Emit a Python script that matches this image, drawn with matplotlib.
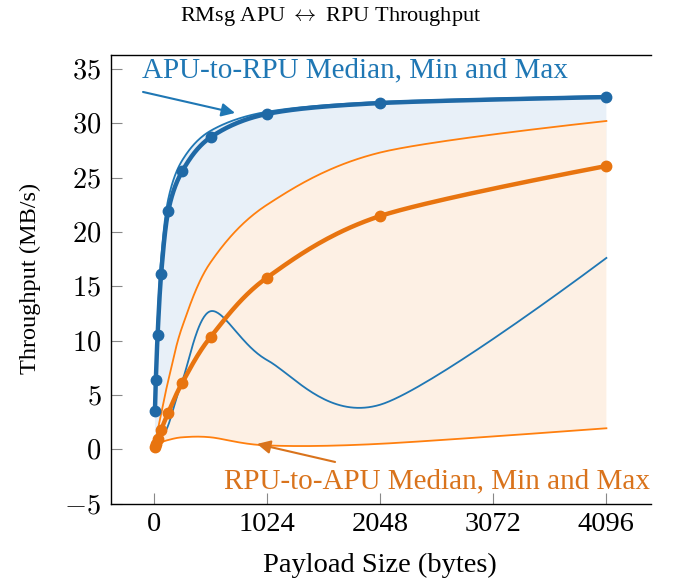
import numpy as np
import matplotlib
matplotlib.use("Agg")
import matplotlib.pyplot as plt
from matplotlib.ticker import FuncFormatter, FixedLocator

# ---------------- data ----------------
payload = [8, 16, 32, 64, 128, 256, 512, 1024, 2048, 4096]

a2r_median = [3.55, 6.4, 10.5, 16.1, 21.9, 25.6, 28.7, 30.85, 31.85, 32.4]
a2r_max = [4.0, 7.2, 11.8, 17.6, 23.0, 26.6, 29.3, 31.05, 31.95, 32.5]
a2r_min = [0.25, 0.5, 0.8, 1.2, 2.2, 6.3, 12.7, 8.2, 4.1, 17.6]

r2a_median = [0.24, 0.48, 0.95, 1.8, 3.37, 6.13, 10.33, 15.8, 21.46, 26.06]
r2a_max = [0.4, 0.9, 1.7, 3.2, 6.3, 11.3, 17.2, 22.5, 27.3, 30.2]
r2a_min = [0.22, 0.4, 0.55, 0.65, 0.85, 1.1, 1.1, 0.35, 0.5, 1.93]

x_ticks = [0, 1024, 2048, 3072, 4096]
y_ticks = [-5, 0, 5, 10, 15, 20, 25, 30, 35]

title = r"RMsg APU $\leftrightarrow$ RPU Throughput"
x_label = "Payload Size (bytes)"
y_label = "Throughput (MB/s)"
a2r_note = "APU-to-RPU Median, Min and Max"
r2a_note = "RPU-to-APU Median, Min and Max"

# ---------------- style ----------------
plt.rcParams["font.family"] = ["Liberation Serif", "DejaVu Serif"]
plt.rcParams["mathtext.fontset"] = "cm"

BLUE = "#1f77b4"
BLUE_DARK = "#1f69a6"
ORANGE = "#ff7f0e"
ORANGE_DARK = "#e8740f"
ORANGE_TEXT = "#d9731c"
BLUE_FILL = "#e8f0f8"
ORANGE_FILL = "#fdf0e4"


def smooth(xs, ys, tension=0.55, n=40):
    """TikZ-like smooth curve through points (cubic Bezier segments)."""
    P = np.column_stack([xs, ys]).astype(float)
    f = 0.2775 * tension
    m = len(P)
    out = [P[0]]
    t = np.linspace(0, 1, n)[1:, None]
    for i in range(m - 1):
        p0, p3 = P[i], P[i + 1]
        c1 = p0 if i == 0 else p0 + f * (P[i + 1] - P[i - 1])
        c2 = p3 if i + 1 == m - 1 else p3 - f * (P[i + 2] - P[i])
        seg = (1 - t) ** 3 * p0 + 3 * (1 - t) ** 2 * t * c1 + 3 * (1 - t) * t ** 2 * c2 + t ** 3 * p3
        out.extend(seg)
    return np.array(out)


W, H = 678, 584
fig = plt.figure(figsize=(W / 100, H / 100), dpi=100)
ax_l, ax_r, ax_t, ax_b = 111, 651, 55, 503.6
ax = fig.add_axes([ax_l / W, 1 - ax_b / H, (ax_r - ax_l) / W, (ax_b - ax_t) / H])

a_med = smooth(payload, a2r_median)
a_hi = smooth(payload, a2r_max)
a_lo = smooth(payload, a2r_min)
r_med = smooth(payload, r2a_median)
r_hi = smooth(payload, r2a_max)
r_lo = smooth(payload, r2a_min)

# fills
poly_a = np.vstack([a_hi, a_lo[::-1]])
ax.fill(poly_a[:, 0], poly_a[:, 1], color=BLUE_FILL, lw=0, zorder=1)
poly_r = np.vstack([r_hi, r_lo[::-1]])
ax.fill(poly_r[:, 0], poly_r[:, 1], color=ORANGE_FILL, lw=0, zorder=2)

# min / max lines
ax.plot(a_hi[:, 0], a_hi[:, 1], color=BLUE, lw=1.3, zorder=3)
ax.plot(a_lo[:, 0], a_lo[:, 1], color=BLUE, lw=1.3, zorder=3)
ax.plot(r_hi[:, 0], r_hi[:, 1], color=ORANGE, lw=1.3, zorder=3)
ax.plot(r_lo[:, 0], r_lo[:, 1], color=ORANGE, lw=1.3, zorder=3)

# medians
ax.plot(a_med[:, 0], a_med[:, 1], color=BLUE_DARK, lw=3.2, zorder=4, solid_capstyle="round")
ax.plot(payload, a2r_median, ls="none", marker="o", ms=7.5, color=BLUE_DARK, zorder=5)
ax.plot(r_med[:, 0], r_med[:, 1], color=ORANGE_DARK, lw=3.2, zorder=4, solid_capstyle="round")
ax.plot(payload, r2a_median, ls="none", marker="o", ms=7.5, color=ORANGE_DARK, zorder=5)

# axes
ax.set_xlim(-390, 4500)
ax.set_ylim(-5, 36.27)
ax.xaxis.set_major_locator(FixedLocator(x_ticks))
ax.yaxis.set_major_locator(FixedLocator(y_ticks))
ax.yaxis.set_major_formatter(FuncFormatter(lambda v, p: r"$%d$" % v))
ax.tick_params(axis="both", direction="in", length=8, width=0.8, color="#888888")
ax.tick_params(axis="x", labelsize=20.5, pad=6)
ax.tick_params(axis="y", labelsize=20.5, pad=7)
ax.spines["right"].set_visible(False)
for s in ("left", "bottom", "top"):
    ax.spines[s].set_linewidth(1.0)
    ax.spines[s].set_color("black")

ax.set_xlabel(x_label, fontsize=20.5, va="center")
ax.xaxis.set_label_coords(0.498, (ax_b - 565) / (ax_b - ax_t))
ax.set_ylabel(y_label, fontsize=17.5, va="center")
ax.yaxis.set_label_coords((30 - ax_l) / (ax_r - ax_l), 0.503)
fig.text(331 / W, 1 - 16 / H, title, ha="center", va="center", fontsize=16)

# annotations
ax.annotate("", xy=(733, 30.94), xytext=(-100, 32.87),
            arrowprops=dict(arrowstyle="-|>", color=BLUE, lw=1.5, mutation_scale=20,
                            shrinkA=0, shrinkB=0), zorder=6)
ax.text(1820, 34.85, a2r_note, color=BLUE, fontsize=21, ha="center", va="center", zorder=6)

ax.annotate("", xy=(932, 0.49), xytext=(1639, -1.17),
            arrowprops=dict(arrowstyle="-|>", color=ORANGE_TEXT, lw=1.5, mutation_scale=20,
                            shrinkA=0, shrinkB=0), zorder=6)
ax.text(2562, -3.0, r2a_note, color=ORANGE_TEXT, fontsize=21, ha="center", va="center", zorder=6)

fig.savefig("out.png", dpi=100)
